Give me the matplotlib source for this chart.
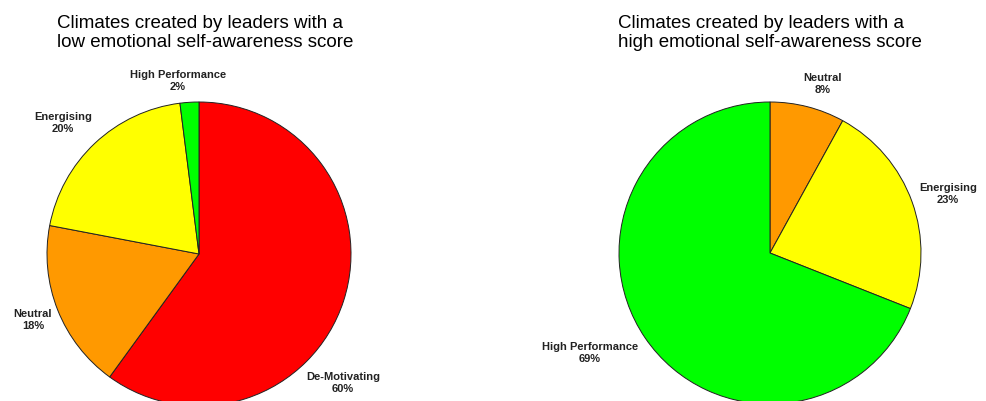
import matplotlib.pyplot as plt

# Data
CATEGORIES = ['De-Motivating', 'Neutral', 'Energising', 'High Performance']
LOW_SCORE = [60, 18, 20, 2]
HIGH_SCORE = [0, 8, 23, 69]
TITLES = ['Climates created by leaders with a\nlow emotional self-awareness score',
          'Climates created by leaders with a\nhigh emotional self-awareness score']

COLORS = {'De-Motivating': '#ff0000', 'Neutral': '#ff9900',
          'Energising': '#ffff00', 'High Performance': '#00ff00'}

W, H = 987, 401

# layout in pixel coordinates (x from left, y from top)
PIES = [
    dict(values=LOW_SCORE, center=(199, 254), radius=152, title_x=57,
         label_pos={'High Performance': (178, 81), 'Energising': (63, 123),
                    'Neutral': (33, 320), 'De-Motivating': (343, 383)}),
    dict(values=HIGH_SCORE, center=(770, 253), radius=151, title_x=618,
         label_pos={'Neutral': (823, 84), 'Energising': (948, 194),
                    'High Performance': (590, 353)}),
]

fig = plt.figure(figsize=(W / 100, H / 100), dpi=100)
ax = fig.add_axes([0, 0, 1, 1])

for spec, title in zip(PIES, TITLES):
    cats = [c for c, v in zip(CATEGORIES, spec['values']) if v > 0]
    vals = [v for v in spec['values'] if v > 0]
    cx, cy = spec['center']
    ax.pie(vals, colors=[COLORS[c] for c in cats], startangle=90, counterclock=False,
           center=(cx, H - cy), radius=spec['radius'], frame=True,
           wedgeprops=dict(edgecolor='#222222', linewidth=0.7))
    for c, v in zip(cats, vals):
        lx, ly = spec['label_pos'][c]
        ax.text(lx, H - ly, f'{c}\n{v}%', ha='center', va='center',
                fontsize=8, fontweight='bold', color='#222222',
                family='Liberation Sans', linespacing=1.25)
    ax.text(spec['title_x'], H - 33, title, ha='left', va='center',
            fontsize=13.5, family='Liberation Sans', color='black', linespacing=1.1)

ax.set_xlim(0, W)
ax.set_ylim(0, H)
ax.set_aspect('equal')
ax.axis('off')

fig.savefig('out.png', dpi=100)
